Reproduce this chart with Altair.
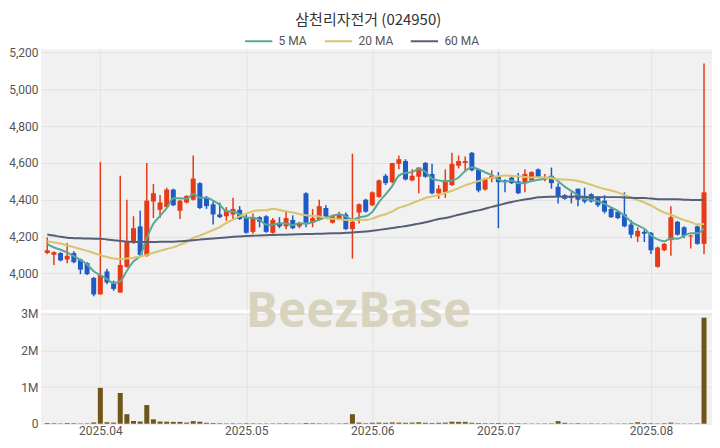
import altair as alt
import pandas as pd

# ---------------- data ----------------
opens = [4110, 4100, 4110, 4075, 4110, 4075, 4055, 3975, 3885, 4010,
         3945, 3895, 4035, 4165, 4255, 4095, 4390, 4345, 4360, 4455,
         4340, 4385, 4400, 4490, 4410, 4375, 4320, 4310, 4320, 4345,
         4300, 4225, 4305, 4310, 4220, 4275, 4255, 4290, 4255, 4435,
         4275, 4290, 4355, 4275, 4295, 4320, 4240, 4330, 4400, 4370,
         4415, 4530, 4495, 4595, 4610, 4505, 4525, 4600, 4540, 4435,
         4440, 4480, 4585, 4600, 4655, 4565, 4455, 4515, 4525, 4505,
         4520, 4500, 4490, 4505, 4565, 4510, 4530, 4470, 4425, 4415,
         4460, 4415, 4430, 4410, 4395, 4350, 4335, 4320, 4265, 4200,
         4225, 4220, 4035, 4125, 4180, 4280, 4250, 4200, 4255, 4160]
highs = [4195, 4120, 4115, 4165, 4120, 4080, 4060, 3980, 4605, 4025,
         3960, 4530, 4400, 4310, 4340, 4600, 4485, 4425, 4465, 4460,
         4400, 4425, 4640, 4495, 4420, 4390, 4385, 4360, 4410, 4365,
         4320, 4325, 4310, 4315, 4300, 4305, 4335, 4315, 4280, 4440,
         4350, 4400, 4370, 4320, 4335, 4330, 4650, 4380, 4405, 4445,
         4510, 4540, 4600, 4640, 4620, 4565, 4575, 4605, 4595, 4480,
         4565, 4655, 4640, 4635, 4660, 4570, 4520, 4560, 4550, 4510,
         4525, 4545, 4565, 4555, 4570, 4540, 4575, 4490, 4430, 4440,
         4460, 4465, 4435, 4420, 4425, 4355, 4340, 4440, 4290, 4250,
         4235, 4225, 4145, 4165, 4365, 4285, 4255, 4210, 4260, 5140]
lows = [4105, 4045, 4065, 4055, 4055, 3995, 3990, 3875, 3885, 3940,
        3905, 3895, 4030, 4160, 4095, 4090, 4300, 4300, 4355, 4365,
        4295, 4380, 4395, 4350, 4350, 4265, 4300, 4285, 4290, 4290,
        4215, 4215, 4250, 4220, 4215, 4245, 4240, 4240, 4245, 4250,
        4250, 4285, 4305, 4270, 4290, 4235, 4080, 4270, 4330, 4365,
        4410, 4480, 4490, 4565, 4505, 4500, 4435, 4520, 4430, 4405,
        4410, 4475, 4570, 4555, 4555, 4440, 4450, 4495, 4245, 4440,
        4485, 4430, 4440, 4500, 4520, 4500, 4460, 4380, 4400, 4380,
        4365, 4380, 4385, 4360, 4325, 4300, 4295, 4250, 4190, 4170,
        4170, 4105, 4030, 4120, 4095, 4205, 4190, 4135, 4155, 4105]
closes = [4125, 4115, 4070, 4095, 4060, 4020, 3995, 3885, 3990, 3950,
          3915, 4045, 4170, 4245, 4100, 4395, 4435, 4385, 4455, 4370,
          4395, 4420, 4515, 4355, 4365, 4320, 4305, 4340, 4350, 4295,
          4220, 4305, 4280, 4225, 4290, 4255, 4300, 4245, 4270, 4275,
          4300, 4365, 4310, 4310, 4320, 4240, 4280, 4375, 4335, 4440,
          4505, 4490, 4600, 4620, 4510, 4530, 4575, 4525, 4435, 4460,
          4505, 4595, 4610, 4610, 4560, 4450, 4515, 4530, 4495, 4495,
          4490, 4435, 4540, 4550, 4525, 4520, 4490, 4415, 4405, 4410,
          4400, 4390, 4390, 4370, 4335, 4305, 4300, 4255, 4210, 4230,
          4215, 4125, 4140, 4160, 4305, 4210, 4205, 4205, 4160, 4440]
volumes = [20000, 15000, 10000, 20000, 15000, 10000, 12000, 35000, 980000, 40000,
           30000, 840000, 260000, 75000, 60000, 510000, 120000, 60000, 55000, 50000,
           50000, 30000, 70000, 55000, 25000, 20000, 15000, 10000, 12000, 10000,
           15000, 12000, 10000, 8000, 10000, 12000, 15000, 10000, 8000, 20000,
           15000, 12000, 10000, 8000, 10000, 15000, 260000, 30000, 15000, 25000,
           30000, 25000, 35000, 30000, 25000, 30000, 40000, 25000, 20000, 25000,
           30000, 55000, 50000, 50000, 25000, 20000, 15000, 15000, 20000, 12000,
           15000, 12000, 10000, 8000, 8000, 10000, 12000, 70000, 25000, 10000,
           15000, 8000, 10000, 8000, 10000, 8000, 8000, 10000, 15000, 40000,
           20000, 15000, 10000, 15000, 30000, 10000, 8000, 8000, 10000, 2900000]
ma5 = [4158, 4140, 4128, 4112, 4093, 4072, 4048, 4011, 3990, 3968,
       3947, 3957, 4014, 4065, 4095, 4191, 4269, 4312, 4354, 4408,
       4408, 4405, 4431, 4411, 4410, 4395, 4372, 4337, 4336, 4322,
       4302, 4302, 4290, 4265, 4264, 4271, 4270, 4263, 4272, 4269,
       4278, 4291, 4304, 4312, 4321, 4309, 4292, 4305, 4310, 4334,
       4387, 4429, 4474, 4531, 4545, 4550, 4567, 4552, 4515, 4505,
       4500, 4504, 4521, 4556, 4576, 4565, 4549, 4533, 4510, 4497,
       4505, 4489, 4491, 4502, 4508, 4514, 4525, 4500, 4471, 4448,
       4424, 4404, 4399, 4392, 4377, 4358, 4340, 4313, 4281, 4260,
       4242, 4207, 4184, 4174, 4189, 4188, 4204, 4217, 4217, 4244]
ma20 = [4174, 4168, 4162, 4152, 4142, 4132, 4122, 4110, 4098, 4088,
        4080, 4077, 4080, 4085, 4090, 4100, 4112, 4122, 4132, 4141,
        4155, 4170, 4192, 4205, 4220, 4235, 4251, 4274, 4292, 4309,
        4324, 4337, 4343, 4342, 4351, 4344, 4337, 4330, 4321, 4316,
        4312, 4309, 4299, 4296, 4294, 4290, 4289, 4291, 4290, 4297,
        4311, 4321, 4337, 4356, 4367, 4381, 4395, 4409, 4417, 4426,
        4437, 4448, 4463, 4478, 4490, 4501, 4512, 4520, 4528, 4531,
        4530, 4527, 4524, 4521, 4522, 4521, 4517, 4511, 4510, 4507,
        4502, 4492, 4481, 4469, 4458, 4450, 4440, 4426, 4412, 4398,
        4385, 4369, 4349, 4330, 4319, 4303, 4289, 4278, 4266, 4268]
ma60 = [4211, 4205, 4198, 4193, 4191, 4190, 4189, 4188, 4188, 4184,
        4180, 4175, 4172, 4171, 4170, 4170, 4170, 4171, 4171, 4172,
        4174, 4177, 4180, 4183, 4186, 4189, 4192, 4195, 4198, 4200,
        4202, 4204, 4206, 4207, 4208, 4209, 4210, 4211, 4212, 4213,
        4214, 4215, 4216, 4217, 4218, 4220, 4222, 4224, 4227, 4231,
        4236, 4241, 4246, 4251, 4257, 4263, 4270, 4277, 4286, 4295,
        4301, 4309, 4318, 4326, 4335, 4342, 4351, 4361, 4370, 4379,
        4388, 4395, 4401, 4406, 4413, 4415, 4416, 4417, 4416, 4417,
        4417, 4416, 4414, 4414, 4414, 4414, 4414, 4412, 4410, 4409,
        4409, 4406, 4403, 4402, 4402, 4402, 4400, 4399, 4398, 4400]
series_names = ["5 MA", "20 MA", "60 MA"]
tick_idx = [8, 30, 49, 68, 91]
tick_labels = ["2025.04", "2025.05", "2025.06", "2025.07", "2025.08"]
price_ticks = [4000, 4200, 4400, 4600, 4800, 5000, 5200]
vol_ticks = [0, 1000000, 2000000, 3000000]
title_text = "삼천리자전거 (024950)"
watermark = ["BeezBase"]

# ---------------- styling ----------------
FONT = "Roboto"
KFONT = "Noto Sans CJK KR"
RED = "#e63b17"
BLUE = "#1f5bc6"
VOL = "#6e5519"
MA_COLORS = ["#5ba796", "#d7c46c", "#565f78"]
LABEL = "#555555"
PLOT_W = 672

idx = list(range(len(closes)))
df = pd.DataFrame({"i": idx, "open": opens, "high": highs, "low": lows,
                   "close": closes, "volume": volumes})
rows = []
for name, arr in zip(series_names, [ma5, ma20, ma60]):
    for i, v in zip(idx, arr):
        rows.append({"i": i, "value": v, "series": name})
ma_df = pd.DataFrame(rows)

label_expr = " : ".join(f"datum.value == {t} ? '{l}'" for t, l in zip(tick_idx, tick_labels)) + " : ''"
xscale = alt.Scale(domain=[-0.2, 99.45], nice=False, zero=False)
x_price = alt.X("i:Q", scale=xscale,
                axis=alt.Axis(values=tick_idx, labels=False, ticks=False, domain=False,
                              grid=True, title=None))
x_vol = alt.X("i:Q", scale=xscale,
              axis=alt.Axis(values=tick_idx, labelExpr=label_expr, ticks=False, domain=False,
                            grid=True, title=None, labelPadding=2))

pscale = alt.Scale(domain=[3801, 5218], nice=False, zero=False)
paxis = alt.Axis(values=price_ticks, format=",.0f", title=None, ticks=False, domain=False,
                 labelPadding=3, minExtent=32, maxExtent=32)

candle_color = alt.condition("datum.close >= datum.open", alt.value(RED), alt.value(BLUE))
base = alt.Chart(df)
wicks = base.mark_rule(strokeWidth=1.5).encode(
    x=x_price, y=alt.Y("low:Q", scale=pscale, axis=paxis), y2="high:Q", color=candle_color)
bodies = base.mark_bar(size=5).encode(
    x=x_price, y=alt.Y("open:Q", scale=pscale, axis=paxis), y2="close:Q", color=candle_color)
lines = alt.Chart(ma_df).mark_line(strokeWidth=2, interpolate="monotone").encode(
    x=x_price,
    y=alt.Y("value:Q", scale=pscale, axis=paxis),
    color=alt.Color("series:N", sort=series_names,
                    scale=alt.Scale(domain=series_names, range=MA_COLORS),
                    legend=alt.Legend(orient="none", legendX=203, legendY=-23,
                                      direction="horizontal", title=None,
                                      symbolType="stroke", symbolStrokeWidth=2,
                                      symbolSize=750, labelFont=FONT, labelFontSize=12,
                                      labelColor=LABEL, columnPadding=13, labelOffset=5)),
    order="i:Q")

price = alt.layer(wicks, bodies, lines).properties(width=PLOT_W, height=261)

vbars = base.mark_bar(size=5, color=VOL).encode(
    x=x_vol,
    y=alt.Y("volume:Q", scale=alt.Scale(domain=[0, 3030000], nice=False),
            axis=alt.Axis(values=vol_ticks,
                          labelExpr="datum.value == 0 ? '0' : (datum.value / 1000000) + 'M'",
                          title=None, ticks=False, domain=False,
                          labelPadding=3, minExtent=32, maxExtent=32)))
wm = alt.Chart(pd.DataFrame({"t": watermark})).mark_text(
    font="Open Sans", fontSize=48, fontWeight="bold", color="#d8d3be",
    align="center", baseline="alphabetic").encode(
    text="t:N", x=alt.value(318), y=alt.value(14))
volume = alt.layer(vbars, wm).properties(width=PLOT_W, height=111)

chart = alt.vconcat(price, volume, spacing=3, bounds="flush").properties(
    title=alt.TitleParams(title_text, font=KFONT, fontSize=15, fontWeight="normal",
                          color="#333333", anchor="middle", offset=-2, dx=8),
    padding={"left": 0, "top": 5, "right": 0, "bottom": 0},
).configure_view(fill="#f1f1f1", stroke=None).configure_axis(
    gridColor="#e3e3e3", labelColor=LABEL, labelFont=FONT, labelFontSize=12
)

chart.save("out.html", embed_options={"renderer": "svg", "actions": False})
